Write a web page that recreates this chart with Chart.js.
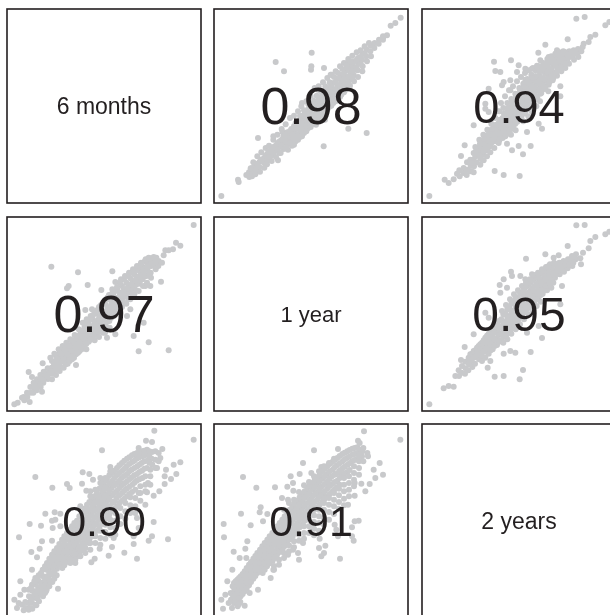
<!DOCTYPE html>
<html><head><meta charset="utf-8">
<script src="https://cdn.jsdelivr.net/npm/chart.js@4"></script>
<style>html,body{margin:0;padding:0;background:#fff;overflow:hidden;width:610px;height:615px}
canvas{position:absolute;display:block}</style></head><body>
<script>
const periods = ["6 months","1 year","2 years"];
const corrLabels = {p12:"0.98",p13:"0.94",p21:"0.97",p23:"0.95",p31:"0.90",p32:"0.91"};

const p12 = [[22,21],[72,70],[74,63],[132,195],[192,128],[329,170],[458,210],[403,223],[185,423],[210,395],[293,451],[292,410],[291,400],[330,405],[560,556],[544,540],[530,532],[519,503],[507,500],
[97,84],[105,92],[106,78],[115,105],[116,90],[114,80],[125,112],[126,98],[124,86],[137,124],[136,108],[138,94],[150,135],[149,122],[151,106],[160,148],[161,130],[159,116],[172,160],[171,142],[173,126],[185,172],[184,156],[186,138],[178,190],[197,185],[198,168],[196,150],[208,200],[207,180],[209,162],[205,214],[220,212],[219,195],[221,176],[222,160],[232,222],[233,206],[231,188],[234,172],[245,240],[244,220],[246,202],[245,185],[258,250],[257,232],[259,214],[258,198],[270,265],[271,245],[269,228],[270,210],[262,290],[282,280],[283,260],[281,240],[282,224],[295,290],[294,272],[296,255],[295,236],[285,310],[308,305],[307,285],[309,268],[308,250],[306,235],[320,318],[319,298],[321,280],[320,262],[312,340],[332,330],[333,312],[331,295],[332,275],[333,250],[345,345],[346,325],[344,305],[345,288],[358,360],[357,340],[359,320],[358,300],[350,385],[370,372],[371,350],[369,330],[370,312],[382,385],[383,365],[381,345],[382,325],[395,398],[394,378],[396,358],[395,340],[402,423],[408,410],[409,392],[407,372],[408,352],[420,425],[421,405],[419,385],[420,365],[432,435],[433,418],[431,398],[432,378],[445,448],[444,430],[446,410],[445,395],[458,460],[457,440],[459,425],[470,472],[469,455],[471,440],[482,480],[481,465],[495,490],[494,478],[508,498],[507,490],
[110,104],[118,122],[130,140],[142,152],[155,165],[165,172],[178,200],[190,205],[203,222],[215,236],[228,255],[240,262],[252,275],[264,300],[277,305],[290,320],[302,345],[314,350],[327,362],[340,375],[352,385],[365,395],[378,410],[390,420],[403,432],[415,442],[428,452],[440,458],[452,470],[465,480],
[130,118],[142,130],[155,142],[165,155],[178,168],[190,180],[203,190],[215,205],[228,216],[240,230],[252,242],[264,255],[277,270],[290,283],[302,296],[314,308],[327,322],[340,337],[352,350],[365,362],[378,375],[390,388],[403,400],[415,415],[428,428],[440,438],[452,448],
[165,138],[178,150],[190,160],[203,172],[215,185],[228,198],[240,212],[252,224],[264,238],[277,250],[290,262],[302,278],[314,290],[327,304],[340,316],[352,330],[365,342],[378,355],[390,368],[403,380],[415,395],[428,408],[440,418],
[228,180],[240,194],[252,206],[264,218],[277,232],[290,245],[302,258],[314,270],[327,285],[340,298],[352,310],[365,322],[378,335],[390,350],[403,360],[415,375],
[200,150],[215,165],[240,175],[252,190],[264,200],[277,215],[290,228],[302,240],[314,252],[327,268],[340,280],[352,292],[365,305],[378,318],[390,332],[235,205],[247,235],[258,262],[270,278],[283,296],[296,308],[308,322],[320,335],[334,350],[347,362],[360,378],[372,390],[385,402],[398,412],[410,425]];

const p13 = [[22,21],[68,70],[80,60],[95,71],[218,96],[245,84],[293,81],[303,146],[326,171],[290,171],[270,158],[255,178],[155,233],[128,173],[117,141],[148,95],[360,223],[350,238],[315,213],[415,350],[415,320],[216,424],[267,428],[220,396],[235,393],[463,553],[488,558],[550,533],[562,543],[437,491],[370,475],[349,451],[355,428],[380,438],[405,458],[425,450],[520,505],[505,498],[500,483],[485,478],[482,468],[290,413],[310,403],[330,403],[285,393],[245,363],[240,353],[265,368],[310,370],[200,343],[190,298],[200,273],[190,283],[265,338],
[105,88],[112,98],[113,80],[125,105],[124,90],[135,122],[136,100],[134,84],[145,130],[146,112],[144,95],[155,150],[154,130],[156,110],[155,92],[165,160],[166,142],[164,122],[175,175],[174,152],[176,132],[175,115],[185,188],[186,165],[184,145],[185,128],[195,200],[194,178],[196,158],[195,140],[205,215],[206,192],[204,170],[205,152],[217,228],[216,205],[218,185],[217,165],[230,240],[231,218],[229,198],[230,180],[242,255],[241,232],[243,212],[242,195],[255,272],[256,248],[254,226],[255,208],[268,288],[267,265],[269,242],[268,222],[267,205],[280,305],[281,280],[279,258],[280,238],[281,218],[292,320],[293,298],[291,272],[292,250],[305,335],[304,312],[306,290],[305,268],[304,245],[318,350],[319,328],[317,305],[318,282],[319,260],[330,365],[329,342],[331,320],[330,298],[329,275],[342,380],[343,358],[341,335],[342,312],[343,290],[355,395],[354,372],[356,350],[355,328],[354,305],[368,410],[369,388],[367,365],[368,342],[380,420],[379,400],[381,378],[380,355],[379,335],[392,430],[393,412],[391,390],[392,368],[405,440],[404,425],[406,405],[405,382],[418,448],[419,435],[417,415],[418,395],[430,452],[431,440],[429,425],[430,405],[442,455],[443,438],[441,418],[455,458],[454,445],[456,430],[468,462],[467,450],[469,438],[478,455],
[160,168],[172,190],[184,205],[196,220],[208,238],[220,255],[232,275],[244,285],[256,300],[268,312],[280,328],[292,345],[304,358],[316,372],[328,385],[340,398],[352,410],[364,420],[376,432],[388,440],[400,448],[412,452],[424,455],
[225,275],[237,300],[249,320],[261,338],[273,350],[285,365],[297,378],[309,390],[321,398],[333,405],[345,412],
[150,120],[160,140],[172,165],[184,178],[196,188],[208,205],[220,216],[232,230],[244,244],[256,260],[268,276],[280,292],[292,308],[304,322],[316,338],[328,352],[340,368],[352,382],[364,398],[376,410],[388,422],[400,430],[412,438],[424,444],
[172,142],[184,155],[196,168],[208,180],[220,195],[232,208],[244,222],[256,236],[268,254],[280,268],[292,284],[304,298],[316,316],[328,330],[340,345],[352,360],[364,375],[376,392],[388,402],[400,412],[412,420],[424,430],
[232,188],[244,204],[256,216],[268,232],[280,248],[292,262],[304,276],[316,292],[328,308],[340,322],[352,338],[364,352],[376,372],[388,380],[400,392],
[340,380],[352,395],[364,408],[376,420],[388,432],[400,420],[412,428],[424,418],[436,430],[448,440],[436,445],[448,450],[460,450],[330,375],[318,362],[306,348],[294,335],[282,318],[270,302],[258,285],[246,268],[234,250],[222,235],[210,222],[198,205],[186,192],[174,178],[162,155],[250,200],[262,215],[274,228],[286,244],[298,256],[310,272],[322,285],[334,300],[346,315],[358,330],[370,345],[382,362],[394,375],[406,395],[418,405],[430,418]];

const p21 = [[22,20],[32,25],[45,40],[68,27],[52,32],[65,117],[75,102],[105,58],[107,143],[207,138],[192,157],[218,180],[133,433],[213,416],[185,375],[180,368],[242,378],[283,363],[316,419],[325,387],[316,365],[560,558],[520,496],[507,505],[498,485],[485,482],[475,482],[470,467],[462,388],[465,445],[425,460],[448,460],[380,418],[398,430],[485,182],[425,206],[395,179],[380,225],[410,265],[325,230],[300,220],[235,303],[255,305],[415,375],[430,375],[370,305],[360,285],
[50,42],[60,55],[61,42],[70,72],[71,55],[80,85],[81,68],[79,55],[90,95],[91,78],[89,62],[100,108],[99,90],[101,72],[110,118],[111,100],[109,85],[122,128],[121,112],[123,96],[135,150],[134,130],[136,112],[135,95],[147,165],[148,145],[146,125],[147,108],[158,175],[159,158],[157,138],[158,120],[170,185],[169,170],[171,150],[170,130],[182,195],[183,178],[181,160],[182,142],[195,205],[194,190],[196,172],[195,155],[207,215],[208,200],[206,185],[207,170],[220,232],[219,215],[221,198],[232,250],[233,232],[231,212],[232,195],[245,262],[244,242],[246,225],[245,208],[257,275],[258,255],[256,238],[257,220],[270,292],[269,270],[271,250],[270,232],[282,305],[283,285],[281,265],[282,245],[295,320],[294,298],[296,280],[295,258],[294,235],[307,335],[308,312],[306,292],[307,270],[308,250],[320,345],[319,325],[321,305],[320,285],[332,362],[333,340],[331,320],[332,298],[345,375],[344,355],[346,335],[345,312],[358,385],[359,365],[357,345],[358,322],[370,398],[369,378],[371,358],[370,335],[382,410],[383,390],[381,370],[382,350],[395,422],[394,402],[396,382],[395,360],[408,432],[409,415],[407,395],[408,375],[420,445],[421,425],[419,405],[420,385],[432,452],[433,435],[431,415],[432,400],[445,455],[444,440],[446,425],[455,450],[454,435],
[130,160],[142,172],[155,185],[167,195],[178,205],[190,215],[203,228],[215,245],[227,265],[239,275],[251,285],[264,298],[276,312],[289,325],[301,340],[313,350],[326,360],[339,385],[351,395],[364,405],[376,415],[388,425],[401,440],[414,450],
[85,75],[95,85],[105,98],[116,108],[128,120],[141,140],[153,148],[164,165],[176,175],[188,186],[201,198],[213,208],[226,224],[238,240],[251,252],[263,265],[276,278],[288,295],[301,310],[313,322],[326,335],[339,350],[351,365],[364,375],[376,388],[388,400],[401,412],[414,425],[426,435],[438,445],
[141,120],[153,128],[164,148],[176,158],[188,168],[201,180],[213,192],[226,205],[238,220],[251,234],[263,246],[276,258],[288,274],[301,290],[313,300],[326,315],[339,328],[351,345],[364,355],[376,368],[388,380],[401,392],[414,405],[426,415],
[176,140],[188,150],[201,160],[213,175],[226,186],[238,202],[251,214],[263,228],[276,238],[288,252],[301,268],[313,280],[326,295],[339,308],[351,325],[364,335],[376,350],[388,362],
[238,185],[263,212],[276,222],[288,235],[301,250],
[90,70],[100,80],[110,92],[122,104],[134,118],[146,132],[158,145],[170,160],[182,170],[194,182],[206,192],[218,205],[230,218],[242,232],[254,245],[266,258],[278,272],[290,285],[302,302],[314,315],[326,328],[338,342],[350,355],[362,368],[374,380],[386,392],[398,405],[410,420],[422,432],[434,442],[446,448],[150,155],[162,172],[174,182],[186,195],[198,212],[210,225],[222,240],[234,262],[246,272],[258,288],[270,302],[282,318],[294,332],[306,348],[318,358],[330,372],[342,395],[354,405],[366,415],[378,425],[390,435],[402,445],[416,455],[428,458],[440,462]];

const p23 = [[22,20],[65,68],[80,75],[95,73],[218,103],[245,105],[293,95],[303,123],[197,130],[205,150],[326,177],[280,175],[245,172],[265,180],[360,219],[350,255],[315,235],[155,230],[128,192],[117,153],[312,457],[370,470],[395,460],[410,467],[437,495],[463,557],[488,558],[550,530],[562,538],[520,522],[505,510],[500,488],[483,475],[267,418],[270,405],[245,395],[233,378],[235,355],[255,370],[295,405],[310,395],[330,410],[380,435],[420,375],[415,320],[190,295],[200,280],[477,440],[455,460],
[100,105],[110,122],[111,105],[120,135],[119,115],[130,148],[131,128],[129,112],[140,160],[141,140],[139,122],[150,172],[149,150],[151,132],[160,182],[161,162],[159,142],[170,195],[169,175],[171,155],[180,205],[181,188],[179,165],[180,150],[190,220],[189,198],[191,178],[190,160],[200,232],[201,210],[199,190],[200,172],[212,245],[211,225],[213,205],[212,185],[225,260],[226,240],[224,218],[225,198],[238,275],[237,252],[239,232],[238,212],[250,292],[251,268],[249,245],[250,225],[262,310],[261,285],[263,262],[262,240],[275,325],[276,302],[274,280],[275,255],[288,340],[287,318],[289,295],[288,272],[300,355],[301,332],[299,310],[300,288],[312,372],[311,350],[313,325],[312,302],[325,385],[326,362],[324,340],[325,318],[338,398],[337,375],[339,352],[338,330],[350,405],[351,388],[349,365],[350,342],[362,415],[361,395],[363,375],[362,352],[375,425],[376,405],[374,385],[375,362],[388,432],[387,412],[389,392],[388,370],[400,440],[401,420],[399,400],[412,445],[411,430],[413,410],[425,450],[424,438],[426,418],[438,455],[439,445],[437,428],[450,465],[449,450],[451,435],[462,470],[461,455],[475,458],
[145,170],[155,180],[165,190],[175,200],[185,212],[195,226],[206,240],[218,255],[231,270],[244,290],[256,305],[268,322],[281,338],[294,352],[306,365],[319,378],[331,392],[344,402],[356,412],[369,422],[381,430],[394,438],
[145,150],[155,160],[165,170],[175,185],[185,198],[195,205],[206,218],[218,235],[231,250],[244,262],[256,280],[268,298],[281,315],[294,328],[306,342],[319,355],[331,368],[344,382],[356,395],[369,405],[381,415],[394,422],[406,432],[419,442],
[185,178],[195,188],[206,200],[218,215],[231,228],[244,242],[256,258],[268,272],[281,292],[294,305],[306,318],[319,332],[331,345],[344,358],[356,372],[369,382],[381,395],[394,405],[406,412],[419,425],[431,432],
[206,182],[218,195],[231,208],[244,222],[256,235],[268,252],[281,268],[294,282],[306,296],[319,310],[331,322],[344,335],[356,348],[369,362],[381,375],[394,385],
[244,205],[256,215],[268,232],[281,245],[294,260],[306,275],[319,290],[331,302],[344,315],[356,328],
[240,300],[252,318],[264,335],[276,350],[288,362],[300,375],[312,385],[324,395],[336,408],[348,415],[360,425],[372,432],[384,440],[396,445],[408,440],[420,445],[432,445],[444,455],[456,460],[250,255],[262,270],[274,290],[286,305],[298,320],[310,338],[322,350],[334,362],[346,375],[358,385],[370,395],[382,405],[394,412],[406,422],[418,432],[430,440],[442,440],[454,445],[240,232],[252,225],[264,242],[276,262],[288,282],[300,298],[312,312],[324,328],[336,340],[348,352],[360,362],[372,375],[384,385]];

const p31 = [[442,562],[560,535],[417,532],[435,528],[285,503],[395,510],[466,507],[520,467],[500,460],[477,445],[508,432],[473,425],[492,417],[473,402],[457,380],[440,367],[85,423],[136,391],[180,402],[188,390],[225,403],[227,437],[247,432],[258,415],[280,420],[310,453],[238,382],[250,380],[115,313],[143,317],[160,313],[68,282],[102,277],[135,292],[145,295],[137,270],[160,275],[36,242],[105,230],[135,232],[98,208],[73,198],[90,182],[75,145],[40,110],[52,85],[117,80],[153,88],[22,55],[40,70],[35,45],[30,30],[50,23],[68,30],[88,38],[390,178],[352,196],[305,187],[315,213],[263,178],[253,167],[278,208],[205,165],[380,222],[425,232],[435,245],[483,236],[440,288],[415,340],[390,300],[395,270],[380,245],[320,240],[420,377],[395,375],[423,405],[450,450],[460,480],[230,210],[245,225],
[45,40],[55,48],[56,30],[65,85],[66,65],[64,45],[65,25],[75,100],[76,82],[74,62],[75,45],[76,28],[85,120],[86,100],[84,80],[85,60],[86,40],[95,128],[96,110],[94,90],[95,70],[96,50],[107,145],[108,125],[106,105],[107,85],[108,65],[120,165],[119,145],[121,125],[120,105],[119,85],[135,190],[136,170],[134,150],[135,130],[136,108],[150,210],[149,190],[151,170],[150,148],[149,128],[165,235],[166,212],[164,190],[165,170],[166,150],[180,255],[179,235],[181,212],[180,190],[179,168],[195,275],[196,252],[194,230],[195,208],[196,188],[210,292],[209,272],[211,250],[210,228],[209,205],[210,185],[225,315],[226,292],[224,270],[225,248],[226,225],[225,205],[240,340],[239,318],[241,295],[240,272],[239,250],[240,228],[255,355],[256,335],[254,312],[255,290],[256,268],[255,245],[270,375],[269,352],[271,330],[270,308],[269,285],[270,262],[285,400],[286,375],[284,352],[285,330],[286,305],[285,282],[300,418],[299,395],[301,372],[300,350],[299,325],[300,300],[315,435],[316,412],[314,390],[315,368],[316,345],[315,320],[330,450],[329,428],[331,405],[330,382],[329,360],[330,335],[345,465],[346,442],[344,420],[345,398],[346,375],[345,352],[360,478],[359,455],[361,432],[360,410],[359,388],[360,365],[375,488],[376,468],[374,445],[375,422],[376,400],[375,378],[390,495],[389,478],[391,455],[390,432],[389,412],[405,500],[406,485],[404,465],[405,442],[406,420],[420,505],[419,490],[421,472],[420,450],[435,498],[434,478],[436,460]];

const p31Fill = [[72,90,55],[82,110,70],[92,118,82,60],[102,135,98,76],[114,155,115,95,75],[127,178,158,136,115,95],[142,200,180,158,138,118],[157,222,200,180,160],[172,245,222,200,180,158],[187,265,242,220,198,178],[202,285,262,240,218,196],[217,305,282,260,238,215,195],[232,328,305,282,260,238,216],[247,348,326,304,280,258,236],[262,365,344,322,300,278,255],[277,388,364,342,318,295,272],[292,410,386,362,340,315,292],[307,428,404,382,358,335,310],[322,442,420,398,375,350,328],[337,458,435,412,390,368,345],[352,472,448,426,404,382,358],[367,482,462,440,416,394,372],[382,492,472,450,428,406],[397,498,482,460,438,416],[412,502,488,470,448],[427,500,485,466],
[190,175,165],[205,190,175],[220,200,185,335],[235,210,195],[250,225,205,365],[265,245,225,385],[280,262,240,220,405],[295,280,258,238,420],[310,295,272,250,440],[325,315,292,270,250],[340,330,305,282],[355,345,320,298],[370,362,338,315],[385,385,360,335,315],[400,395,375,352],[415,425,400,380],[430,445,425,400],[445,500,475,450],[455,470,495]];

const p32 = [[450,560],[559,535],[432,532],[437,525],[300,503],[372,507],[267,465],[322,453],[462,485],[497,465],[479,445],[507,430],[484,420],[467,402],[442,403],[422,405],[454,380],[422,367],[87,423],[127,391],[183,392],[220,394],[230,425],[237,405],[238,382],[257,432],[292,435],[204,360],[222,355],[140,332],[137,317],[81,313],[160,312],[147,290],[110,278],[29,282],[30,242],[100,230],[94,208],[59,199],[77,180],[97,180],[55,145],[40,110],[22,55],[34,70],[44,45],[27,28],[54,30],[92,37],[107,75],[132,85],[170,120],[178,145],[378,178],[334,217],[315,210],[330,195],[322,185],[255,175],[222,190],[237,205],[252,195],[267,225],[317,238],[372,245],[419,232],[414,245],[414,272],[434,292],[422,290],[402,340],[362,280],[367,265],
[50,75],[51,55],[60,105],[61,85],[59,65],[60,45],[70,115],[71,95],[69,75],[70,55],[71,35],[80,125],[79,105],[81,85],[80,65],[79,48],[92,140],[93,120],[91,100],[92,80],[105,160],[104,140],[106,118],[105,98],[118,178],[119,158],[117,138],[118,118],[130,195],[129,175],[131,155],[130,135],[145,215],[146,195],[144,175],[145,155],[146,135],[160,235],[159,215],[161,195],[160,175],[159,155],[175,255],[176,235],[174,212],[175,192],[176,172],[190,275],[189,252],[191,230],[190,210],[189,190],[205,295],[206,272],[204,250],[205,228],[206,208],[220,315],[219,292],[221,270],[220,248],[219,225],[235,335],[236,312],[234,290],[235,268],[236,245],[250,352],[249,330],[251,308],[250,285],[249,262],[265,372],[266,350],[264,328],[265,305],[266,282],[280,390],[279,368],[281,345],[280,322],[279,300],[295,405],[296,385],[294,362],[295,340],[296,318],[310,422],[309,400],[311,378],[310,355],[309,332],[325,440],[326,418],[324,395],[325,372],[326,350],[340,455],[339,432],[341,410],[340,388],[339,365],[355,468],[356,445],[354,425],[355,402],[356,380],[370,480],[369,458],[371,435],[370,412],[369,392],[385,492],[386,470],[384,448],[385,428],[400,500],[399,480],[401,460],[400,438],[415,508],[416,490],[414,470],[430,512],[429,495],[431,478],[445,500],[444,485]];

const p32Fill = [[56,95,70],[65,110,90,70,50],[75,120,100,80,60,42],[86,132,112,92,72],[98,150,130,108,88],[111,168,148,128,108],[124,186,166,146,126],[138,205,185,165,145],[152,225,205,185,165,145],[167,245,225,204,184,164],[182,265,244,222,200,180],[197,285,262,240,218,198],[212,305,282,260,238,216],[227,325,302,280,258,236],[242,344,322,300,276,254],[257,362,340,318,296,272],[272,380,360,336,314,292],[287,398,376,354,330,308],[302,414,392,370,348,326],[317,430,410,386,364,340],[332,448,425,402,380,358],[347,462,440,418,396,372],[362,474,452,430,408,386],[377,486,464,442,420,400],[392,496,476,454,434],[407,504,485,464,444],[422,510,492,474],[437,505,490],
[180,156,145],[195,175,160],[210,195,180,325],[225,218,200,345],[240,230,212,355],[255,250,232,378],[270,275,255,238,398],[285,295,275,255,408],[300,308,288,268,248,425],[315,325,305,285,262,440],[330,345,325,300,280,455],[345,360,340,318,295,465],[360,375,355,335,312,478],[375,388,368,348,328],[390,420,400,380,358,338],[405,425,405,385,365],[420,455,435,415,395],[435,470,450,430],[448,510,470],[460,495]];

const unfold = cols => cols.flatMap(([x,...ys]) => ys.map(y => [x,y]));

const GREY="#c8c9cb", INK="#231f20", FONT='"Liberation Sans", Arial, sans-serif';
const lefts=[7,214,422], tops=[9,217,424], SIZE=194, PAD=4;

const framePlugin={id:"frame",afterDraw(c,_,o){
  const a=c.chartArea,x=c.ctx;
  x.save();
  if(o.text){x.fillStyle=INK;x.font=o.size+"px "+FONT;x.textAlign="center";x.textBaseline="alphabetic";
    x.fillText(o.text,(a.left+a.right)/2,(a.top+a.bottom)/2+o.size*0.355);}
  x.strokeStyle=INK;x.lineWidth=1.6;x.strokeRect(a.left,a.top,a.right-a.left,a.bottom-a.top);
  x.restore();
}};

function panel(r,c,data,text,size){
  const cv=document.createElement("canvas");
  const full=SIZE+2*PAD;
  cv.width=full;cv.height=full;
  cv.style.cssText=`left:${lefts[c]-PAD}px;top:${tops[r]-PAD}px;width:${full}px;height:${full}px`;
  document.body.appendChild(cv);
  new Chart(cv,{type:"scatter",
    data:{datasets:[{data:data,backgroundColor:GREY,borderWidth:0,pointRadius:3,pointHoverRadius:3}]},
    plugins:[framePlugin],
    options:{responsive:false,animation:false,devicePixelRatio:1,
      layout:{padding:PAD},
      plugins:{legend:{display:false},tooltip:{enabled:false},frame:{text,size}},
      scales:{x:{display:false,min:0,max:582},y:{display:false,min:0,max:582}}}});
}
panel(0,0,[],periods[0],23);
panel(0,1,p12,corrLabels.p12,52);
panel(0,2,p13,corrLabels.p13,47);
panel(1,0,p21,corrLabels.p21,52);
panel(1,1,[],periods[1],22);
panel(1,2,p23,corrLabels.p23,48);
panel(2,0,p31.concat(unfold(p31Fill)),corrLabels.p31,43);
panel(2,1,p32.concat(unfold(p32Fill)),corrLabels.p32,43);
panel(2,2,[],periods[2],23);
</script></body></html>
